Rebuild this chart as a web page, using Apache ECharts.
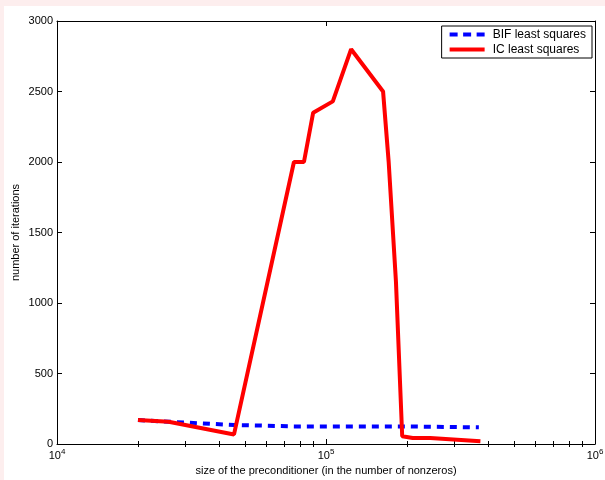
<!DOCTYPE html>
<html>
<head>
<meta charset="utf-8">
<script src="https://cdn.jsdelivr.net/npm/echarts@6/dist/echarts.min.js"></script>
<style>
  html, body { margin: 0; padding: 0; background: #fdeeee; }
  #chart { position: absolute; left: 4px; top: 6px; width: 601px; height: 474px; background: #ffffff; }
</style>
</head>
<body>
<div id="chart"></div>
<script>
// Preconditioner size (nonzeros) and iteration counts
var icSize  = [20000, 26000, 45500, 76000, 82800, 89600, 106000, 124000, 163000, 171000, 182000, 192000, 210000, 244000, 375000];
var icIter  = [170, 158, 68, 2000, 2000, 2350, 2430, 2800, 2500, 2000, 1150, 55, 42, 42, 20];
var bifSize = [20000, 26000, 45500, 76000, 124000, 192000, 370000];
var bifIter = [170, 158, 135, 125, 125, 125, 118];

var xMajor = [10000, 100000, 1000000];
var xMinor = [20000, 30000, 40000, 50000, 60000, 70000, 80000, 90000,
              200000, 300000, 400000, 500000, 600000, 700000, 800000, 900000];

var FONT = 'Liberation Sans, Arial, Helvetica, sans-serif';

function pairs(xs, ys) {
  return xs.map(function (x, i) { return [x, ys[i]]; });
}

function logAxis(pos, ticks, len, opts) {
  return Object.assign({
    type: 'log', logBase: 10, min: 10000, max: 1000000, position: pos,
    axisLine: { show: true, onZero: false, lineStyle: { color: '#000', width: 1 } },
    axisTick: { show: true, inside: true, length: len, customValues: ticks, lineStyle: { color: '#000' } },
    axisLabel: { show: false },
    splitLine: { show: false }
  }, opts || {});
}

var chart = echarts.init(document.getElementById('chart'));
chart.setOption({
  animation: false,
  backgroundColor: '#ffffff',
  textStyle: { fontFamily: FONT },
  grid: { left: 53, right: 10, top: 15, bottom: 36, containLabel: false, outerBoundsMode: 'none' },
  legend: {
    orient: 'vertical', right: 13, top: 20,
    padding: [2, 6, 2, 8], itemGap: 2,
    itemWidth: 35, itemHeight: 4,
    borderColor: '#000', borderWidth: 1, borderRadius: 0,
    backgroundColor: '#fff',
    textStyle: { fontSize: 12, color: '#000', fontFamily: FONT, lineHeight: 13, padding: [0, 0, 0, 3] },
    data: [
      { name: 'BIF least squares', icon: 'path://M0,0h8v4h-8zM13.5,0h8v4h-8zM27,0h8v4h-8z' },
      { name: 'IC least squares', icon: 'path://M0,0h35v4h-35z' }
    ]
  },
  xAxis: [
    logAxis('bottom', xMajor, 5, {
      name: 'size of the preconditioner (in the number of nonzeros)',
      nameLocation: 'middle', nameGap: 21, nameMoveOverlap: false,
      nameTextStyle: { fontSize: 11, color: '#000', fontFamily: FONT },
      axisLabel: {
        show: true, customValues: xMajor, margin: 4, color: '#000',
        formatter: function (v) { return '{b|10}{s|' + Math.round(Math.log10(v)) + '}'; },
        rich: {
          b: { fontSize: 11, color: '#000', fontFamily: FONT },
          s: { fontSize: 8, color: '#000', fontFamily: FONT, padding: [0, 0, 7, 0] }
        }
      }
    }),
    logAxis('bottom', xMinor, 3, { axisLine: { show: false } }),
    logAxis('top', xMajor, 5),
    logAxis('top', xMinor, 3, { axisLine: { show: false } })
  ],
  yAxis: [
    {
      type: 'value', min: 0, max: 3000, interval: 500, position: 'left',
      name: 'number of iterations', nameLocation: 'middle', nameGap: 36, nameMoveOverlap: false,
      nameTextStyle: { fontSize: 11, color: '#000', fontFamily: FONT },
      axisLine: { show: true, lineStyle: { color: '#000', width: 1 } },
      axisTick: { show: true, inside: true, length: 5, lineStyle: { color: '#000' } },
      axisLabel: { fontSize: 11, color: '#000', margin: 4, fontFamily: FONT,
                   formatter: function (v) { return String(v); } },
      splitLine: { show: false }
    },
    {
      type: 'value', min: 0, max: 3000, interval: 500, position: 'right',
      axisLine: { show: true, lineStyle: { color: '#000', width: 1 } },
      axisTick: { show: true, inside: true, length: 5, lineStyle: { color: '#000' } },
      axisLabel: { show: false },
      splitLine: { show: false }
    }
  ],
  series: [
    {
      name: 'BIF least squares', type: 'line', xAxisIndex: 0, yAxisIndex: 0,
      data: pairs(bifSize, bifIter),
      symbol: 'none', z: 2,
      lineStyle: { color: '#0000ff', width: 4, type: [7, 6] },
      itemStyle: { color: '#0000ff' }
    },
    {
      name: 'IC least squares', type: 'line', xAxisIndex: 0, yAxisIndex: 0,
      data: pairs(icSize, icIter),
      symbol: 'none', z: 3,
      lineStyle: { color: '#ff0000', width: 4 },
      itemStyle: { color: '#ff0000' }
    }
  ]
});
</script>
</body>
</html>
